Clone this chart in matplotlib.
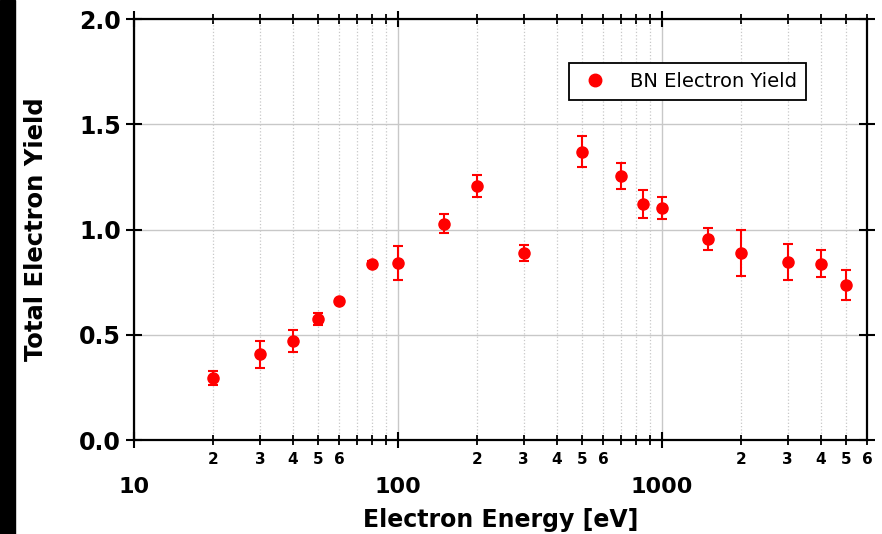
import matplotlib
matplotlib.use("Agg")
import matplotlib.pyplot as plt
import matplotlib.ticker as mticker
from matplotlib.lines import Line2D
from matplotlib.patches import Rectangle

plt.rcParams['font.family'] = ['DejaVu Sans']

# BN total electron yield vs primary energy
energy = [20, 30, 40, 50, 60, 80, 100, 150, 200, 300, 500, 700, 850, 1000,
          1500, 2000, 3000, 4000, 5000]
yield_ = [0.296, 0.407, 0.469, 0.575, 0.659, 0.838, 0.842, 1.029, 1.208, 0.888,
          1.370, 1.256, 1.120, 1.101, 0.955, 0.888, 0.847, 0.838, 0.736]
yield_err = [0.033, 0.065, 0.052, 0.030, 0.008, 0.012, 0.080, 0.047, 0.053, 0.038,
             0.073, 0.063, 0.066, 0.052, 0.053, 0.110, 0.087, 0.064, 0.071]

RED = '#ff0000'

fig = plt.figure(figsize=(8.82, 5.34), dpi=100)
ax = fig.add_axes([0.152, 0.176, 0.831, 0.788])

# dark strip on the left edge
fig.patches.append(Rectangle((0, 0), 15 / 882, 1, transform=fig.transFigure,
                             color='black', zorder=0))

ax.errorbar(energy, yield_, yerr=yield_err, fmt='o', color=RED,
            markersize=8, elinewidth=1.5, capsize=3.5, capthick=1.5, zorder=3)

ax.set_xscale('log')
ax.set_xlim(10, 6000)
ax.set_ylim(0, 2.0)

ax.xaxis.set_major_locator(mticker.LogLocator(base=10))
ax.xaxis.set_major_formatter(mticker.FuncFormatter(lambda v, p: f'{v:g}'))
ax.xaxis.set_minor_locator(mticker.LogLocator(base=10, subs=range(2, 10)))


def minor_fmt(v, pos):
    d = int(round(v / 10 ** int(f'{v:e}'.split('e')[1])))
    return str(d) if d <= 6 else ''


ax.xaxis.set_minor_formatter(mticker.FuncFormatter(minor_fmt))
ax.yaxis.set_major_locator(mticker.MultipleLocator(0.5))
ax.yaxis.set_major_formatter(mticker.FormatStrFormatter('%.1f'))

ax.tick_params(which='major', direction='inout', length=11, width=1.5,
               top=True, right=True, labelsize=17)
ax.tick_params(which='minor', direction='inout', length=7, width=1.3,
               top=True, labelsize=11, pad=5)
ax.tick_params(axis='x', which='major', labelsize=16, pad=21)
ax.tick_params(axis='y', which='major', pad=4)
for lbl in ax.get_xticklabels(which='both') + ax.get_yticklabels():
    lbl.set_fontweight('bold')

ax.grid(True, which='major', color='#c8c8c8', linestyle='-', linewidth=1)
ax.grid(True, which='minor', axis='x', color='#c8c8c8', linestyle=':', linewidth=0.9)
ax.set_axisbelow(True)

for s in ax.spines.values():
    s.set_linewidth(1.6)

ax.set_xlabel('Electron Energy [eV]', fontsize=17, fontweight='bold', labelpad=8)
ax.set_ylabel('Total Electron Yield', fontsize=17.5, fontweight='bold', labelpad=22)

handle = Line2D([], [], marker='o', linestyle='none', color=RED, markersize=9)
leg = ax.legend([handle], ['BN Electron Yield'], loc='upper left',
                bbox_to_anchor=(0.593, 0.895), borderaxespad=0, fontsize=14,
                frameon=True, fancybox=False, edgecolor='black', framealpha=1,
                handletextpad=0.9, borderpad=0.45, handlelength=1.8)
leg.get_frame().set_linewidth(1.3)

fig.savefig('out.png', dpi=100)
